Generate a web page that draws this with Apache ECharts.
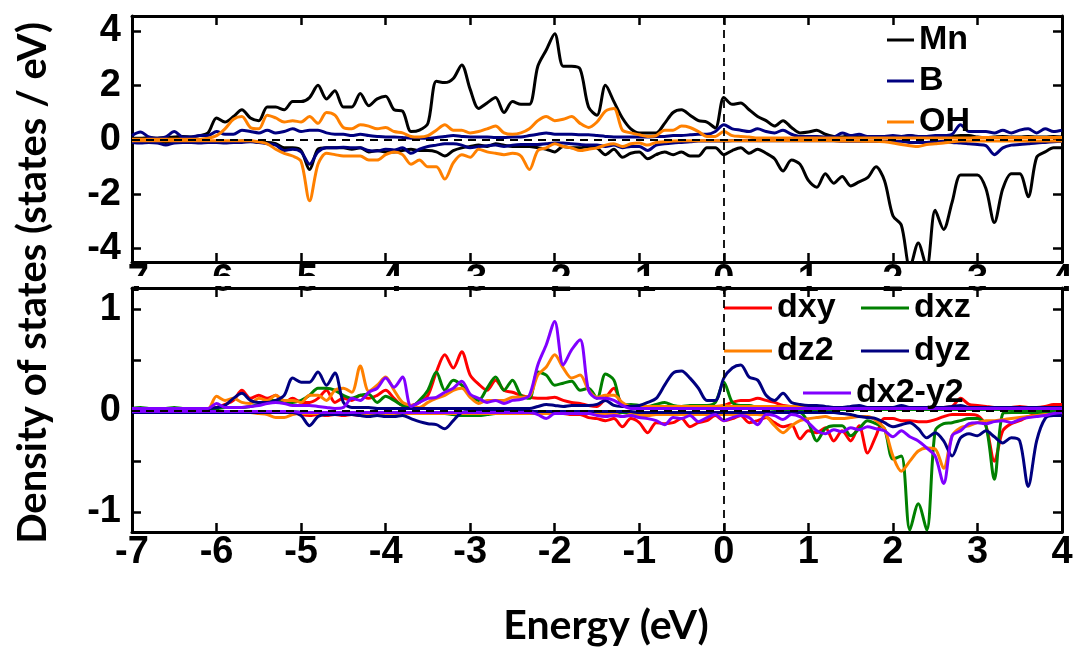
<!DOCTYPE html>
<html>
<head>
<meta charset="utf-8">
<script src="https://cdn.jsdelivr.net/npm/echarts@6/dist/echarts.min.js"></script>
<style>html,body{margin:0;padding:0;background:#fff}#c{width:1080px;height:650px}</style>
</head>
<body>
<div id="c"></div>
<script>
const energy = [
-7.0,-6.9,-6.8,-6.7,-6.6,-6.5,-6.4,-6.3,-6.2,-6.1,
-6.0,-5.9,-5.8,-5.7,-5.6,-5.5,-5.4,-5.3,-5.2,-5.1,
-5.0,-4.9,-4.8,-4.7,-4.6,-4.5,-4.4,-4.3,-4.2,-4.1,
-4.0,-3.9,-3.8,-3.7,-3.6,-3.5,-3.4,-3.3,-3.2,-3.1,
-3.0,-2.9,-2.8,-2.7,-2.6,-2.5,-2.4,-2.3,-2.2,-2.1,
-2.0,-1.9,-1.8,-1.7,-1.6,-1.5,-1.4,-1.3,-1.2,-1.1,
-1.0,-0.9,-0.8,-0.7,-0.6,-0.5,-0.4,-0.3,-0.2,-0.1,
0.0,0.1,0.2,0.3,0.4,0.5,0.6,0.7,0.8,0.9,
1.0,1.1,1.2,1.3,1.4,1.5,1.6,1.7,1.8,1.9,
2.0,2.1,2.2,2.3,2.4,2.5,2.6,2.7,2.8,2.9,
3.0,3.1,3.2,3.3,3.4,3.5,3.6,3.7,3.8,3.9,
4.0];

// ---- top panel: Mn, B, OH (spin up / spin down) ----
const mnUp = [
0.05,0.05,0.08,0.05,0.08,0.1,0.12,0.1,0.15,0.25,
0.8,0.65,0.85,1.1,0.8,0.7,1.2,1.2,1.1,1.4,
1.4,1.55,2.0,1.5,1.8,1.2,1.2,1.7,1.25,1.5,
1.6,1.1,1.05,0.3,0.35,0.6,2.15,2.1,2.25,2.75,
1.85,1.15,1.35,1.55,1.0,1.4,1.3,1.3,2.7,3.3,
3.9,2.7,2.7,2.6,1.2,0.9,2.0,1.4,0.8,0.4,
0.25,0.25,0.25,0.6,1.0,1.1,0.9,0.7,0.65,0.43,
1.55,1.3,1.35,1.1,0.85,0.7,0.5,0.7,0.45,0.25,
0.28,0.35,0.2,0.12,0.1,0.15,0.1,0.1,0.12,0.1,
0.1,0.1,0.15,0.1,0.08,0.1,0.1,0.12,0.15,0.15,
0.1,0.08,0.1,0.12,0.1,0.1,0.12,0.1,0.1,0.12,
0.1];
const mnDn = [
-0.08,-0.1,-0.08,-0.08,-0.1,-0.08,-0.08,-0.08,-0.1,-0.08,
-0.1,-0.1,-0.1,-0.05,-0.05,-0.1,-0.1,-0.15,-0.3,-0.3,
-0.4,-1.1,-0.35,-0.3,-0.3,-0.3,-0.35,-0.3,-0.45,-0.4,
-0.45,-0.45,-0.4,-0.35,-0.4,-0.4,-0.45,-0.6,-0.4,-0.3,
-0.25,-0.2,-0.25,-0.15,-0.2,-0.25,-0.25,-0.25,-0.3,-0.35,
-0.45,-0.25,-0.3,-0.3,-0.25,-0.3,-0.55,-0.35,-0.65,-0.5,
-0.45,-0.7,-0.55,-0.45,-0.55,-0.45,-0.6,-0.6,-0.3,-0.3,
-0.55,-0.4,-0.3,-0.5,-0.35,-0.5,-0.7,-1.15,-0.75,-0.9,
-1.5,-1.75,-1.25,-1.6,-1.35,-1.7,-1.55,-1.4,-1.0,-1.5,
-2.8,-3.15,-4.7,-3.8,-4.7,-2.6,-3.3,-2.3,-1.3,-1.3,
-1.3,-1.8,-3.05,-1.8,-1.25,-1.25,-2.1,-0.65,-0.45,-0.3,
-0.3];
const bUp = [
0.15,0.28,0.1,0.05,0.1,0.3,0.1,0.1,0.15,0.15,
0.3,0.2,0.2,0.35,0.3,0.25,0.35,0.25,0.3,0.4,
0.3,0.35,0.35,0.25,0.2,0.2,0.15,0.2,0.15,0.12,
0.1,0.1,0.08,0.05,0.05,0.05,0.08,0.12,0.15,0.12,
0.1,0.1,0.1,0.08,0.08,0.1,0.1,0.15,0.2,0.25,
0.2,0.2,0.2,0.18,0.18,0.15,0.12,0.1,0.1,0.1,
0.1,0.1,0.12,0.12,0.15,0.15,0.18,0.2,0.2,0.3,
0.55,0.4,0.35,0.3,0.4,0.3,0.25,0.35,0.2,0.12,
0.12,0.12,0.1,0.1,0.25,0.15,0.2,0.12,0.12,0.12,
0.15,0.12,0.15,0.12,0.12,0.15,0.15,0.2,0.55,0.3,
0.3,0.3,0.25,0.35,0.25,0.35,0.4,0.25,0.4,0.3,
0.35];
const bDn = [
-0.1,-0.12,-0.1,-0.12,-0.2,-0.12,-0.1,-0.1,-0.12,-0.1,
-0.1,-0.12,-0.1,-0.1,-0.08,-0.1,-0.15,-0.2,-0.4,-0.35,
-0.45,-0.9,-0.45,-0.3,-0.3,-0.28,-0.3,-0.3,-0.4,-0.42,
-0.35,-0.38,-0.3,-0.5,-0.35,-0.25,-0.2,-0.15,-0.15,-0.2,
-0.3,-0.25,-0.22,-0.2,-0.25,-0.2,-0.18,-0.18,-0.18,-0.15,
-0.12,-0.12,-0.15,-0.18,-0.2,-0.2,-0.25,-0.2,-0.3,-0.25,
-0.25,-0.4,-0.2,-0.15,-0.12,-0.1,-0.08,-0.05,-0.05,-0.05,
-0.05,-0.04,-0.04,-0.04,-0.04,-0.04,-0.04,-0.04,-0.04,-0.04,
-0.04,-0.04,-0.04,-0.04,-0.06,-0.06,-0.06,-0.06,-0.06,-0.06,
-0.06,-0.06,-0.1,-0.1,-0.1,-0.08,-0.06,-0.1,-0.12,-0.15,
-0.18,-0.22,-0.55,-0.3,-0.2,-0.18,-0.15,-0.12,-0.1,-0.08,
-0.06];
const ohUp = [
0.02,0.02,0.02,0.02,0.02,0.02,0.02,0.02,0.02,0.05,
0.15,0.4,0.75,0.85,0.45,0.4,0.9,0.8,0.65,0.7,
0.65,0.85,0.6,1.0,0.9,0.45,0.4,0.55,0.5,0.4,
0.45,0.3,0.25,0.12,0.1,0.15,0.35,0.55,0.35,0.35,
0.25,0.3,0.4,0.5,0.25,0.2,0.25,0.4,0.7,0.85,
0.7,0.75,0.85,0.6,0.45,0.65,1.05,1.15,0.35,0.25,
0.18,0.12,0.15,0.35,0.35,0.5,0.45,0.3,0.12,0.12,
0.3,0.15,0.12,0.1,0.06,0.06,0.06,0.06,0.06,0.06,
0.06,0.06,0.06,0.06,0.06,0.06,0.06,0.06,0.06,0.06,
0.06,0.06,0.06,0.06,0.06,0.06,0.06,0.06,0.06,0.06,
0.08,0.08,0.08,0.08,0.08,0.08,0.08,0.08,0.08,0.08,
0.08];
const ohDn = [
-0.04,-0.04,-0.04,-0.04,-0.04,-0.04,-0.04,-0.04,-0.04,-0.04,
-0.04,-0.04,-0.04,-0.04,-0.04,-0.08,-0.15,-0.35,-0.5,-0.6,
-0.8,-2.25,-0.9,-0.5,-0.55,-0.6,-0.6,-0.6,-0.75,-0.75,
-0.55,-0.45,-0.55,-0.9,-0.75,-1.0,-1.0,-1.45,-0.85,-0.55,
-0.65,-0.35,-0.45,-0.5,-0.55,-0.5,-0.6,-1.1,-0.4,-0.3,
-0.15,-0.25,-0.3,-0.4,-0.35,-0.3,-0.2,-0.15,-0.25,-0.15,
-0.12,-0.2,-0.1,-0.08,-0.05,-0.04,-0.04,-0.04,-0.04,-0.04,
-0.04,-0.04,-0.04,-0.04,-0.04,-0.04,-0.04,-0.04,-0.04,-0.04,
-0.04,-0.04,-0.04,-0.04,-0.05,-0.05,-0.05,-0.06,-0.06,-0.08,
-0.12,-0.18,-0.22,-0.25,-0.18,-0.15,-0.12,-0.08,-0.05,-0.05,
-0.05,-0.05,-0.05,-0.05,-0.05,-0.05,-0.05,-0.05,-0.05,-0.05,
-0.05];

// ---- bottom panel: Mn d orbitals (spin up / spin down) ----
const dxyUp = [
0.02,0.02,0.02,0.02,0.02,0.02,0.02,0.02,0.02,0.02,
0.03,0.06,0.1,0.2,0.12,0.15,0.12,0.15,0.08,0.12,
0.08,0.08,0.12,0.2,0.08,0.12,0.1,0.15,0.12,0.15,
0.2,0.12,0.05,0.05,0.08,0.15,0.38,0.55,0.42,0.58,
0.35,0.26,0.2,0.3,0.2,0.18,0.15,0.13,0.12,0.12,
0.13,0.1,0.08,0.07,0.05,0.04,0.12,0.22,0.06,0.05,
0.04,0.04,0.04,0.03,0.03,0.03,0.03,0.03,0.03,0.03,
0.05,0.08,0.1,0.1,0.12,0.1,0.08,0.05,0.04,0.03,
0.02,0.02,0.02,0.02,0.02,0.02,0.02,0.02,0.02,0.02,
0.02,0.02,0.02,0.02,0.02,0.02,0.03,0.04,0.12,0.06,
0.05,0.04,0.03,0.03,0.03,0.04,0.03,0.03,0.04,0.06,
0.06];
const dxyDn = [
-0.01,-0.01,-0.01,-0.01,-0.01,-0.01,-0.01,-0.01,-0.01,-0.01,
-0.02,-0.02,-0.02,-0.02,-0.02,-0.02,-0.02,-0.02,-0.02,-0.02,
-0.04,-0.05,-0.04,-0.05,-0.04,-0.05,-0.04,-0.05,-0.05,-0.04,
-0.03,-0.03,-0.03,-0.03,-0.03,-0.03,-0.03,-0.03,-0.03,-0.03,
-0.03,-0.03,-0.03,-0.03,-0.03,-0.03,-0.03,-0.03,-0.03,-0.03,
-0.03,-0.03,-0.04,-0.04,-0.07,-0.08,-0.1,-0.08,-0.16,-0.08,
-0.12,-0.22,-0.12,-0.13,-0.12,-0.08,-0.16,-0.12,-0.1,-0.05,
-0.1,-0.08,-0.05,-0.12,-0.1,-0.07,-0.12,-0.16,-0.14,-0.28,
-0.2,-0.22,-0.17,-0.3,-0.2,-0.3,-0.15,-0.42,-0.25,-0.08,
-0.08,-0.1,-0.1,-0.11,-0.11,-0.09,-0.06,-0.04,-0.04,-0.04,
-0.05,-0.15,-0.5,-0.2,-0.13,-0.1,-0.06,-0.04,-0.03,-0.03,
-0.02];
const dxzUp = [
0.02,0.03,0.02,0.02,0.02,0.03,0.02,0.02,0.02,0.02,
0.02,0.03,0.03,0.03,0.04,0.06,0.1,0.1,0.08,0.08,
0.1,0.15,0.22,0.22,0.2,0.15,0.12,0.15,0.16,0.08,
0.14,0.1,0.05,0.04,0.1,0.2,0.38,0.2,0.3,0.25,
0.15,0.1,0.22,0.33,0.2,0.3,0.15,0.12,0.38,0.35,
0.25,0.27,0.29,0.2,0.22,0.12,0.36,0.3,0.05,0.06,
0.05,0.04,0.06,0.08,0.05,0.04,0.05,0.05,0.05,0.08,
0.28,0.08,0.05,0.05,0.03,0.02,0.01,0.01,0.01,0.01,
0.01,0.01,0.01,0.01,0.01,0.01,0.01,0.01,0.01,0.01,
0.01,0.01,0.01,0.01,0.01,0.01,0.01,0.01,0.01,0.01,
0.01,0.01,0.01,0.01,0.01,0.01,0.01,0.01,0.01,0.01,
0.01];
const dxzDn = [
-0.01,-0.01,-0.01,-0.01,-0.01,-0.01,-0.01,-0.01,-0.01,-0.01,
-0.01,-0.01,-0.01,-0.01,-0.01,-0.01,-0.01,-0.01,-0.01,-0.01,
-0.02,-0.02,-0.02,-0.02,-0.02,-0.02,-0.02,-0.02,-0.02,-0.02,
-0.02,-0.02,-0.02,-0.02,-0.02,-0.03,-0.03,-0.03,-0.04,-0.05,
-0.05,-0.05,-0.04,-0.03,-0.03,-0.03,-0.03,-0.03,-0.02,-0.02,
-0.02,-0.02,-0.02,-0.02,-0.02,-0.02,-0.02,-0.02,-0.02,-0.02,
-0.02,-0.02,-0.02,-0.02,-0.02,-0.02,-0.02,-0.02,-0.02,-0.02,
-0.02,-0.02,-0.02,-0.02,-0.02,-0.02,-0.02,-0.02,-0.02,-0.02,
-0.12,-0.3,-0.18,-0.15,-0.15,-0.25,-0.18,-0.1,-0.13,-0.18,
-0.48,-0.45,-1.18,-0.92,-1.18,-0.2,-0.13,-0.12,-0.1,-0.08,
-0.08,-0.15,-0.68,-0.03,-0.02,-0.02,-0.02,-0.02,-0.02,-0.02,
-0.02];
const dz2Up = [
0.02,0.02,0.02,0.02,0.02,0.02,0.02,0.02,0.02,0.02,
0.14,0.1,0.12,0.08,0.07,0.12,0.1,0.15,0.1,0.1,
0.08,0.15,0.15,0.1,0.2,0.22,0.18,0.44,0.19,0.25,
0.33,0.2,0.08,0.05,0.03,0.08,0.12,0.15,0.2,0.22,
0.13,0.07,0.1,0.1,0.1,0.13,0.13,0.14,0.35,0.43,
0.55,0.42,0.32,0.35,0.2,0.13,0.15,0.15,0.08,0.04,
0.04,0.04,0.04,0.04,0.04,0.04,0.04,0.04,0.04,0.04,
0.05,0.04,0.04,0.04,0.04,0.04,0.04,0.04,0.04,0.04,
0.02,0.02,0.02,0.02,0.02,0.02,0.02,0.02,0.02,0.02,
0.02,0.02,0.02,0.02,0.02,0.02,0.02,0.02,0.02,0.02,
0.02,0.02,0.02,0.02,0.02,0.02,0.02,0.02,0.02,0.02,
0.02];
const dz2Dn = [
-0.01,-0.01,-0.01,-0.01,-0.01,-0.01,-0.01,-0.01,-0.01,-0.01,
-0.02,-0.02,-0.02,-0.02,-0.02,-0.03,-0.04,-0.07,-0.07,-0.04,
-0.03,-0.03,-0.03,-0.03,-0.03,-0.03,-0.03,-0.03,-0.03,-0.03,
-0.03,-0.03,-0.03,-0.03,-0.03,-0.03,-0.03,-0.03,-0.03,-0.03,
-0.03,-0.03,-0.03,-0.03,-0.03,-0.03,-0.03,-0.03,-0.03,-0.03,
-0.03,-0.03,-0.03,-0.03,-0.03,-0.03,-0.03,-0.03,-0.06,-0.04,
-0.05,-0.05,-0.04,-0.04,-0.04,-0.04,-0.04,-0.04,-0.04,-0.04,
-0.04,-0.04,-0.04,-0.04,-0.04,-0.06,-0.15,-0.22,-0.15,-0.1,
-0.08,-0.07,-0.06,-0.08,-0.08,-0.07,-0.06,-0.06,-0.1,-0.18,
-0.45,-0.6,-0.5,-0.4,-0.37,-0.38,-0.57,-0.25,-0.17,-0.15,
-0.12,-0.1,-0.1,-0.09,-0.08,-0.07,-0.06,-0.05,-0.04,-0.04,
-0.03];
const dyzUp = [
0.02,0.02,0.02,0.02,0.02,0.02,0.02,0.02,0.02,0.02,
0.03,0.05,0.12,0.17,0.1,0.08,0.08,0.1,0.15,0.32,
0.28,0.28,0.38,0.25,0.37,0.08,0.03,0.03,0.03,0.02,
0.02,0.02,0.02,0.02,0.02,0.02,0.02,0.02,0.02,0.02,
0.02,0.02,0.02,0.02,0.02,0.02,0.02,0.02,0.04,0.06,
0.05,0.04,0.05,0.05,0.05,0.06,0.1,0.05,0.04,0.04,
0.05,0.08,0.12,0.25,0.37,0.39,0.32,0.22,0.1,0.1,
0.32,0.42,0.45,0.33,0.3,0.15,0.1,0.17,0.08,0.06,
0.05,0.05,0.04,0.03,0.03,0.04,0.05,0.03,0.03,0.03,
0.03,0.05,0.03,0.03,0.03,0.03,0.03,0.04,0.05,0.03,
0.03,0.03,0.03,0.03,0.03,0.03,0.03,0.03,0.03,0.03,
0.03];
const dyzDn = [
-0.02,-0.02,-0.02,-0.02,-0.02,-0.02,-0.02,-0.02,-0.02,-0.02,
-0.02,-0.02,-0.02,-0.02,-0.02,-0.02,-0.02,-0.02,-0.02,-0.02,
-0.05,-0.15,-0.06,-0.04,-0.04,-0.04,-0.04,-0.05,-0.06,-0.05,
-0.06,-0.06,-0.05,-0.08,-0.11,-0.13,-0.14,-0.18,-0.1,-0.02,
-0.01,-0.01,-0.01,-0.01,-0.01,-0.01,-0.01,-0.01,-0.01,-0.01,
-0.01,-0.01,-0.01,-0.01,-0.01,-0.01,-0.01,-0.01,-0.01,-0.01,
-0.02,-0.02,-0.02,-0.02,-0.02,-0.02,-0.02,-0.02,-0.02,-0.02,
-0.02,-0.02,-0.02,-0.02,-0.02,-0.02,-0.02,-0.02,-0.02,-0.02,
-0.02,-0.02,-0.02,-0.02,-0.03,-0.04,-0.06,-0.07,-0.08,-0.12,
-0.16,-0.14,-0.12,-0.18,-0.27,-0.22,-0.3,-0.45,-0.27,-0.23,
-0.25,-0.2,-0.26,-0.32,-0.27,-0.3,-0.75,-0.3,-0.08,-0.05,
-0.05];
const dx2Up = [
0.02,0.02,0.02,0.02,0.02,0.02,0.02,0.02,0.02,0.02,
0.07,0.03,0.03,0.03,0.04,0.05,0.07,0.08,0.07,0.05,
0.05,0.05,0.04,0.03,0.02,0.03,0.12,0.1,0.18,0.22,
0.32,0.23,0.33,0.04,0.08,0.12,0.13,0.18,0.22,0.29,
0.16,0.12,0.08,0.1,0.07,0.1,0.11,0.15,0.45,0.65,
0.88,0.45,0.6,0.7,0.2,0.12,0.12,0.1,0.05,0.02,
0.02,0.02,0.02,0.02,0.02,0.02,0.02,0.02,0.02,0.02,
0.02,0.02,0.02,0.02,0.02,0.02,0.02,0.02,0.02,0.02,
0.02,0.02,0.02,0.02,0.02,0.02,0.02,0.02,0.02,0.02,
0.02,0.02,0.02,0.02,0.02,0.02,0.02,0.02,0.02,0.02,
0.02,0.02,0.02,0.02,0.02,0.02,0.02,0.02,0.02,0.02,
0.02];
const dx2Dn = [
-0.01,-0.01,-0.01,-0.01,-0.01,-0.01,-0.01,-0.01,-0.01,-0.01,
-0.01,-0.01,-0.01,-0.01,-0.01,-0.01,-0.01,-0.01,-0.01,-0.01,
-0.02,-0.02,-0.02,-0.02,-0.02,-0.02,-0.02,-0.02,-0.02,-0.02,
-0.02,-0.02,-0.02,-0.02,-0.02,-0.02,-0.02,-0.02,-0.02,-0.02,
-0.02,-0.02,-0.02,-0.02,-0.02,-0.02,-0.02,-0.02,-0.04,-0.08,
-0.03,-0.03,-0.03,-0.03,-0.03,-0.05,-0.06,-0.05,-0.06,-0.05,
-0.07,-0.08,-0.1,-0.14,-0.07,-0.08,-0.05,-0.11,-0.07,-0.04,
-0.1,-0.07,-0.05,-0.07,-0.14,-0.04,-0.05,-0.09,-0.04,-0.06,
-0.12,-0.2,-0.23,-0.19,-0.21,-0.17,-0.19,-0.16,-0.18,-0.2,
-0.26,-0.2,-0.26,-0.3,-0.37,-0.45,-0.72,-0.25,-0.2,-0.13,
-0.12,-0.13,-0.11,-0.1,-0.12,-0.09,-0.07,-0.06,-0.05,-0.03,
-0.02];

const xTicks = [-7,-6,-5,-4,-3,-2,-1,0,1,2,3,4];
const topYTicks = [-4,-2,0,2,4];
const botYTicks = [-1,0,1];

const TICKFONT = "'Liberation Sans Narrow', 'Liberation Sans', Arial, sans-serif";
const TITLEFONT = 'Lato';

function pairs(arr){ return energy.map((e,i)=>[e, arr[i]]); }
function mk(name, arr, color, g, extra){
  return Object.assign({
    name: name, type: 'line', xAxisIndex: g*2, yAxisIndex: g*2,
    data: pairs(arr), showSymbol: false, symbol: 'none', smooth: 0.3,
    lineStyle: {color: color, width: 3}, itemStyle: {color: color},
    emphasis: {disabled: true}, animation: false
  }, extra || {});
}
const dashML = {
  silent: true, symbol: ['none','none'], label: {show: false},
  lineStyle: {color: '#000', type: [8,6], width: 1.8},
  data: [{xAxis: 0}, {yAxis: 0}]
};

function xAxisCfg(g, pos, showLabel){
  return {
    type: 'value', gridIndex: g, position: pos, min: -7, max: 4, interval: 1,
    axisLine: {show: true, onZero: false, lineStyle: {color: '#000', width: 3}},
    axisTick: {show: true, inside: true, length: 9, lineStyle: {color: '#000', width: 2.5}},
    axisLabel: {show: showLabel, color: '#000', fontSize: 38, fontWeight: 'bold', fontFamily: TICKFONT,
      margin: g === 0 ? 0 : 2,
      formatter: v => (xTicks.indexOf(Math.round(v)) >= 0 && Math.abs(v - Math.round(v)) < 1e-6) ? String(Math.round(v)) : ''},
    splitLine: {show: false}
  };
}
function yAxisCfg(g, pos, showLabel, mn, mx, ticks){
  return {
    type: 'value', gridIndex: g, position: pos, min: mn, max: mx,
    axisLine: {show: true, onZero: false, lineStyle: {color: '#000', width: 3}},
    axisTick: {show: true, inside: true, length: 9, lineStyle: {color: '#000', width: 2.5}},
    axisLabel: {show: showLabel, color: '#000', fontSize: 38, fontWeight: 'bold', fontFamily: TICKFONT, margin: 11,
      showMinLabel: false, showMaxLabel: false,
      formatter: v => {
        const r = Math.round(v);
        return (Math.abs(v - r) < 1e-6 && ticks.indexOf(r) >= 0) ? String(r) : '';
      }},
    splitLine: {show: false}
  };
}
const legendText = {fontSize: 34, fontWeight: 'bold', fontFamily: TICKFONT, color: '#000'};

const option = {
  backgroundColor: '#fff',
  animation: false,
  grid: [
    {left: 132, top: 16, width: 930, height: 246},
    {left: 132, top: 288, width: 930, height: 244}
  ],
  xAxis: [
    xAxisCfg(0, 'bottom', true), xAxisCfg(0, 'top', false),
    xAxisCfg(1, 'bottom', true), xAxisCfg(1, 'top', false)
  ],
  yAxis: [
    yAxisCfg(0, 'left', true, -4.5, 4.55, topYTicks), yAxisCfg(0, 'right', false, -4.5, 4.55, topYTicks),
    yAxisCfg(1, 'left', true, -1.2, 1.21, botYTicks), yAxisCfg(1, 'right', false, -1.2, 1.21, botYTicks)
  ],
  legend: [
    {data: ['Mn','B','OH'], orient: 'vertical', left: 887, top: 23, itemWidth: 27, itemHeight: 3, itemGap: 7,
     icon: 'rect', textStyle: legendText, selectedMode: false, padding: 0},
    {data: ['dxy','dz2'], orient: 'vertical', left: 724, top: 291, itemWidth: 48, itemHeight: 3, itemGap: 9,
     icon: 'rect', textStyle: legendText, selectedMode: false, padding: 0},
    {data: ['dxz','dyz'], orient: 'vertical', left: 861, top: 291, itemWidth: 48, itemHeight: 3, itemGap: 9,
     icon: 'rect', textStyle: legendText, selectedMode: false, padding: 0},
    {data: ['dx2-y2'], orient: 'vertical', left: 803, top: 376, itemWidth: 48, itemHeight: 3,
     icon: 'rect', textStyle: legendText, selectedMode: false, padding: 0}
  ],
  series: [
    mk('Mn', mnUp, '#000000', 0), mk('Mn', mnDn, '#000000', 0),
    mk('B', bUp, '#000080', 0), mk('B', bDn, '#000080', 0),
    mk('OH', ohUp, '#ff8000', 0), mk('OH', ohDn, '#ff8000', 0, {markLine: dashML}),
    mk('dxy', dxyUp, '#ff0000', 1), mk('dxy', dxyDn, '#ff0000', 1),
    mk('dxz', dxzUp, '#008000', 1), mk('dxz', dxzDn, '#008000', 1),
    mk('dz2', dz2Up, '#ff8000', 1), mk('dz2', dz2Dn, '#ff8000', 1),
    mk('dyz', dyzUp, '#000080', 1), mk('dyz', dyzDn, '#000080', 1),
    mk('dx2-y2', dx2Up, '#8000ff', 1), mk('dx2-y2', dx2Dn, '#8000ff', 1, {markLine: dashML})
  ],
  graphic: [
    {type: 'rect', z: 100, shape: {x: 60, y: 276, width: 1020, height: 10}, style: {fill: '#fff'}, silent: true},
    {type: 'text', z: 100, x: 33, y: 283, rotation: Math.PI / 2,
     style: {text: 'Density of states (states / eV)', fill: '#000', fontSize: 40, fontWeight: 'bold', fontFamily: TITLEFONT,
       align: 'center', verticalAlign: 'middle', textAlign: 'center', textVerticalAlign: 'middle'}},
    {type: 'text', z: 100, x: 606, y: 626,
     style: {text: 'Energy (eV)', fill: '#000', fontSize: 41, fontWeight: 'bold', fontFamily: TITLEFONT,
       align: 'center', verticalAlign: 'middle', textAlign: 'center', textVerticalAlign: 'middle'}}
  ]
};
const chart = echarts.init(document.getElementById('c'), null, {renderer: 'canvas'});
chart.setOption(option);
</script>
</body>
</html>
